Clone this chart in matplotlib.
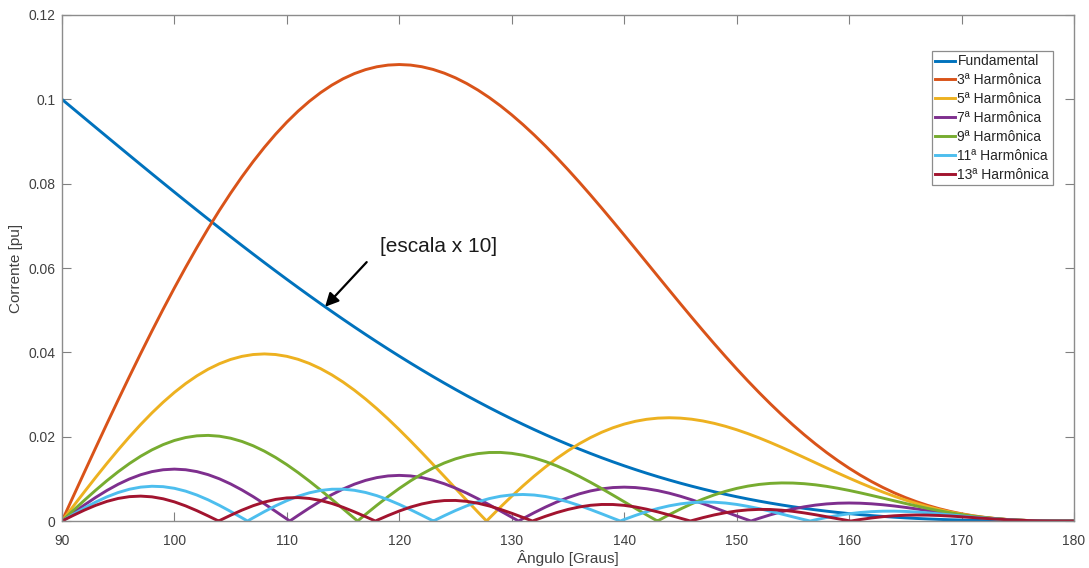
import numpy as np
import matplotlib
matplotlib.use('Agg')
import matplotlib.pyplot as plt

plt.rcParams['font.family'] = ['Liberation Sans', 'DejaVu Sans']

# angulo de disparo [graus], passo de 1 grau
angulo = [90, 91, 92, 93, 94, 95, 96, 97, 98, 99,
          100, 101, 102, 103, 104, 105, 106, 107, 108, 109,
          110, 111, 112, 113, 114, 115, 116, 117, 118, 119,
          120, 121, 122, 123, 124, 125, 126, 127, 128, 129,
          130, 131, 132, 133, 134, 135, 136, 137, 138, 139,
          140, 141, 142, 143, 144, 145, 146, 147, 148, 149,
          150, 151, 152, 153, 154, 155, 156, 157, 158, 159,
          160, 161, 162, 163, 164, 165, 166, 167, 168, 169,
          170, 171, 172, 173, 174, 175, 176, 177, 178, 179, 180]

# fundamental (ja dividida por 10)
fundamental = [0.1, 0.097777, 0.095557, 0.093339, 0.091126, 0.088917, 0.086715, 0.084522, 0.082337, 0.080164,
               0.078002, 0.075854, 0.073719, 0.071602, 0.069502, 0.067418, 0.065354, 0.063312, 0.06129, 0.059292,
               0.057317, 0.055368, 0.053444, 0.051548, 0.049678, 0.047839, 0.046028, 0.044248, 0.0425, 0.040784,
               0.0391, 0.037451, 0.035835, 0.034254, 0.032709, 0.0312, 0.029727, 0.028291, 0.026892, 0.025531,
               0.024208, 0.022923, 0.021677, 0.020469, 0.0193, 0.018169, 0.017077, 0.016024, 0.01501, 0.014034,
               0.013097, 0.012198, 0.011337, 0.010513, 0.009727, 0.008978, 0.008265, 0.007588, 0.006946, 0.006339,
               0.005767, 0.005228, 0.004722, 0.004248, 0.003806, 0.003394, 0.003012, 0.002658, 0.002333, 0.002034,
               0.001762, 0.001514, 0.00129, 0.001089, 0.00091, 0.000751, 0.000612, 0.000491, 0.000386, 0.000298,
               0.000224, 0.000164, 0.000115, 0.000077, 0.000049, 0.000028, 0.000014, 0.000006, 0.000002, 0.0, 0.0]

h3 = [0.0, 0.005815, 0.011612, 0.017374, 0.023083, 0.028722, 0.034273, 0.039721, 0.04505, 0.050243,
      0.055285, 0.060162, 0.064859, 0.069365, 0.073666, 0.077751, 0.08161, 0.085232, 0.08861, 0.091734,
      0.0946, 0.097199, 0.09953, 0.101586, 0.103367, 0.104871, 0.106097, 0.107046, 0.107719, 0.108121,
      0.108254, 0.108123, 0.107733, 0.107093, 0.106209, 0.105091, 0.103746, 0.102185, 0.10042, 0.09846,
      0.096318, 0.094008, 0.09154, 0.088929, 0.086189, 0.083333, 0.080376, 0.077331, 0.074214, 0.071038,
      0.067817, 0.064565, 0.061297, 0.058025, 0.054764, 0.051525, 0.048321, 0.045165, 0.042065, 0.039036,
      0.036085, 0.033221, 0.030454, 0.027791, 0.025238, 0.022803, 0.02049, 0.018304, 0.016247, 0.014323,
      0.012532, 0.010876, 0.009355, 0.007967, 0.00671, 0.005582, 0.004579, 0.003697, 0.00293, 0.002273,
      0.001718, 0.00126, 0.00089, 0.000599, 0.000378, 0.00022, 0.000113, 0.000048, 0.000014, 0.000002, 0.0]

h5 = [0.0, 0.003486, 0.006945, 0.010348, 0.01367, 0.016884, 0.019965, 0.022889, 0.025634, 0.028179,
      0.030504, 0.032592, 0.03443, 0.036003, 0.037301, 0.038318, 0.039045, 0.039482, 0.039628, 0.039483,
      0.039054, 0.038347, 0.037371, 0.036137, 0.03466, 0.032954, 0.031037, 0.028927, 0.026645, 0.024212,
      0.021651, 0.018984, 0.016235, 0.013428, 0.010588, 0.007737, 0.004898, 0.002096, 0.000649, 0.003315,
      0.005883, 0.008335, 0.010653, 0.012823, 0.014831, 0.016667, 0.018319, 0.019782, 0.021049, 0.022117,
      0.022984, 0.023652, 0.024123, 0.0244, 0.024491, 0.024403, 0.024146, 0.023729, 0.023166, 0.022468,
      0.021651, 0.020728, 0.019714, 0.018626, 0.017479, 0.016287, 0.015067, 0.013833, 0.012599, 0.011379,
      0.010187, 0.009032, 0.007926, 0.006877, 0.005895, 0.004984, 0.004151, 0.003398, 0.002728, 0.002141,
      0.001636, 0.001211, 0.000862, 0.000585, 0.000371, 0.000217, 0.000112, 0.000047, 0.000014, 0.000002, 0.0]

h7 = [0.0, 0.001931, 0.003814, 0.005602, 0.007251, 0.00872, 0.009972, 0.010978, 0.011713, 0.01216,
      0.01231, 0.012161, 0.011718, 0.010994, 0.01001, 0.008792, 0.007372, 0.005789, 0.004082, 0.002295,
      0.000475, 0.001334, 0.003087, 0.00474, 0.006255, 0.007596, 0.008731, 0.009637, 0.010295, 0.010693,
      0.010825, 0.010695, 0.010309, 0.009684, 0.00884, 0.007804, 0.006605, 0.005277, 0.003857, 0.002383,
      0.000893, 0.000576, 0.001987, 0.003306, 0.004505, 0.005556, 0.006438, 0.007135, 0.007636, 0.007936,
      0.008035, 0.007938, 0.007657, 0.007206, 0.006605, 0.005874, 0.00504, 0.004129, 0.003167, 0.002183,
      0.001203, 0.000252, 0.000647, 0.001474, 0.002211, 0.002845, 0.003367, 0.003771, 0.004055, 0.004222,
      0.004275, 0.004225, 0.004082, 0.003859, 0.003572, 0.003236, 0.002868, 0.002482, 0.002096, 0.00172,
      0.001368, 0.001049, 0.000771, 0.000537, 0.000349, 0.000208, 0.000109, 0.000046, 0.000014, 0.000002, 0.0]

h9 = [0.0, 0.002487, 0.004936, 0.00731, 0.009574, 0.011692, 0.013633, 0.015368, 0.016872, 0.018123,
      0.019103, 0.019799, 0.020202, 0.020308, 0.020118, 0.019637, 0.018875, 0.017847, 0.01657, 0.015067,
      0.013364, 0.011488, 0.00947, 0.007343, 0.005141, 0.002899, 0.00065, 0.001569, 0.003727, 0.005791,
      0.007732, 0.009523, 0.011139, 0.012558, 0.013765, 0.014745, 0.015489, 0.015991, 0.016249, 0.016266,
      0.016049, 0.015607, 0.014954, 0.014106, 0.013082, 0.011905, 0.010597, 0.009184, 0.00769, 0.006144,
      0.004571, 0.002996, 0.001445, 0.000059, 0.001494, 0.002841, 0.004081, 0.005201, 0.006188, 0.007034,
      0.007732, 0.00828, 0.008678, 0.008927, 0.009034, 0.009006, 0.008854, 0.008589, 0.008224, 0.007775,
      0.007256, 0.006684, 0.006074, 0.005442, 0.004804, 0.004172, 0.003561, 0.002981, 0.002442, 0.001952,
      0.001517, 0.00114, 0.000822, 0.000564, 0.000363, 0.000213, 0.000111, 0.000047, 0.000014, 0.000002, 0.0]

h11 = [0.0, 0.001577, 0.003095, 0.004499, 0.005737, 0.006762, 0.007539, 0.008038, 0.008244, 0.008148,
       0.007757, 0.007086, 0.006163, 0.005023, 0.003709, 0.002273, 0.000767, 0.000751, 0.002226, 0.003604,
       0.004835, 0.005875, 0.006689, 0.007249, 0.007539, 0.007552, 0.007291, 0.006772, 0.006017, 0.005059,
       0.003937, 0.002694, 0.001381, 0.000046, 0.00126, 0.002491, 0.003602, 0.004556, 0.005322, 0.005875,
       0.006202, 0.006297, 0.006163, 0.005812, 0.005264, 0.004545, 0.003689, 0.002731, 0.00171, 0.000667,
       0.000359, 0.00133, 0.002213, 0.002978, 0.003602, 0.00407, 0.00437, 0.004499, 0.004462, 0.00427,
       0.003937, 0.003484, 0.002936, 0.002319, 0.001662, 0.000991, 0.000334, 0.000285, 0.000845, 0.00133,
       0.001726, 0.002026, 0.002226, 0.00233, 0.002342, 0.002273, 0.002134, 0.001941, 0.00171, 0.001456,
       0.001196, 0.000943, 0.000709, 0.000504, 0.000334, 0.000202, 0.000107, 0.000046, 0.000014, 0.000002, 0.0]

h13 = [0.0, 0.001331, 0.002593, 0.003722, 0.004659, 0.005357, 0.00578, 0.005908, 0.005735, 0.005271,
       0.004542, 0.003586, 0.002455, 0.001208, 0.000091, 0.001374, 0.002575, 0.003633, 0.004497, 0.005122,
       0.005481, 0.005558, 0.005352, 0.004879, 0.004166, 0.003253, 0.00219, 0.001035, 0.000152, 0.00131,
       0.002379, 0.003307, 0.004049, 0.004571, 0.004851, 0.00488, 0.004663, 0.004217, 0.00357, 0.002761,
       0.001836, 0.000846, 0.000158, 0.001122, 0.001999, 0.002747, 0.003332, 0.003729, 0.003926, 0.003918,
       0.003715, 0.003335, 0.002805, 0.002158, 0.001433, 0.000671, 0.000087, 0.000803, 0.001442, 0.001974,
       0.002379, 0.002643, 0.002759, 0.002733, 0.002574, 0.002299, 0.001931, 0.001496, 0.001023, 0.000539,
       0.00007, 0.000359, 0.000729, 0.001026, 0.001242, 0.001374, 0.001424, 0.0014, 0.001313, 0.001178,
       0.00101, 0.000826, 0.00064, 0.000467, 0.000316, 0.000194, 0.000104, 0.000046, 0.000014, 0.000002, 0.0]

# angulos onde cada harmonica se anula (pontas dos lobulos)
zeros_h5 = [127.76]
zeros_h7 = [110.26, 130.61, 151.28]
zeros_h9 = [116.29, 142.96]
zeros_h11 = [106.5, 123.03, 139.65, 156.54]
zeros_h13 = [103.93, 117.87, 131.84, 145.89, 160.16]

series = [
    ('Fundamental', fundamental, [], '#0072BD'),
    ('3ª Harmônica', h3, [], '#D95319'),
    ('5ª Harmônica', h5, zeros_h5, '#EDB120'),
    ('7ª Harmônica', h7, zeros_h7, '#7E2F8E'),
    ('9ª Harmônica', h9, zeros_h9, '#77AC30'),
    ('11ª Harmônica', h11, zeros_h11, '#4DBEEE'),
    ('13ª Harmônica', h13, zeros_h13, '#A2142F'),
]

fig = plt.figure(figsize=(10.89, 5.68), dpi=100)
ax = fig.add_axes([0.0569, 0.0827, 0.9293, 0.8909])

for nome, valores, zeros, cor in series:
    x = np.concatenate([angulo, zeros])
    y = np.concatenate([valores, np.zeros(len(zeros))])
    ordem = np.argsort(x)
    ax.plot(x[ordem], y[ordem], color=cor, lw=2.1, label=nome,
            solid_joinstyle='round')

ax.set_xlim(90, 180)
ax.set_ylim(0, 0.12)
ax.set_xticks(range(90, 181, 10))
ax.set_yticks([0, 0.02, 0.04, 0.06, 0.08, 0.1, 0.12])
ax.set_yticklabels(['0', '0.02', '0.04', '0.06', '0.08', '0.1', '0.12'])

ax.tick_params(direction='in', length=6.5, width=0.8, color='#808080',
               labelsize=10, labelcolor='#404040', top=True, right=True)
ax.tick_params(axis='x', pad=9)
ax.tick_params(axis='y', pad=4.5)
for s in ax.spines.values():
    s.set_color('#8c8c8c')
    s.set_linewidth(1.0)

ax.set_xlabel('Ângulo [Graus]', fontsize=11, color='#404040', labelpad=2)
ax.set_ylabel('Corrente [pu]', fontsize=11, color='#404040', labelpad=4)

leg = ax.legend(loc='upper right', bbox_to_anchor=(0.979, 0.929),
                borderaxespad=0, fontsize=10, handlelength=1.45,
                handletextpad=0.15, borderpad=0.25, labelspacing=0.35,
                fancybox=False, framealpha=1, edgecolor='#8c8c8c')
leg.get_frame().set_linewidth(0.9)
for t in leg.get_texts():
    t.set_color('#262626')

# seta indicando a escala da fundamental
ponta = (113.4, np.interp(113.4, angulo, fundamental))
ax.annotate('', xy=ponta, xytext=(117.1, 0.0614),
            arrowprops=dict(arrowstyle='-|>', color='k', lw=1.6,
                            mutation_scale=20, shrinkA=0, shrinkB=0))
ax.text(118.3, 0.0652, '[escala x 10]', fontsize=15, color='#1a1a1a',
        ha='left', va='center')

fig.savefig('out.png', dpi=100)
